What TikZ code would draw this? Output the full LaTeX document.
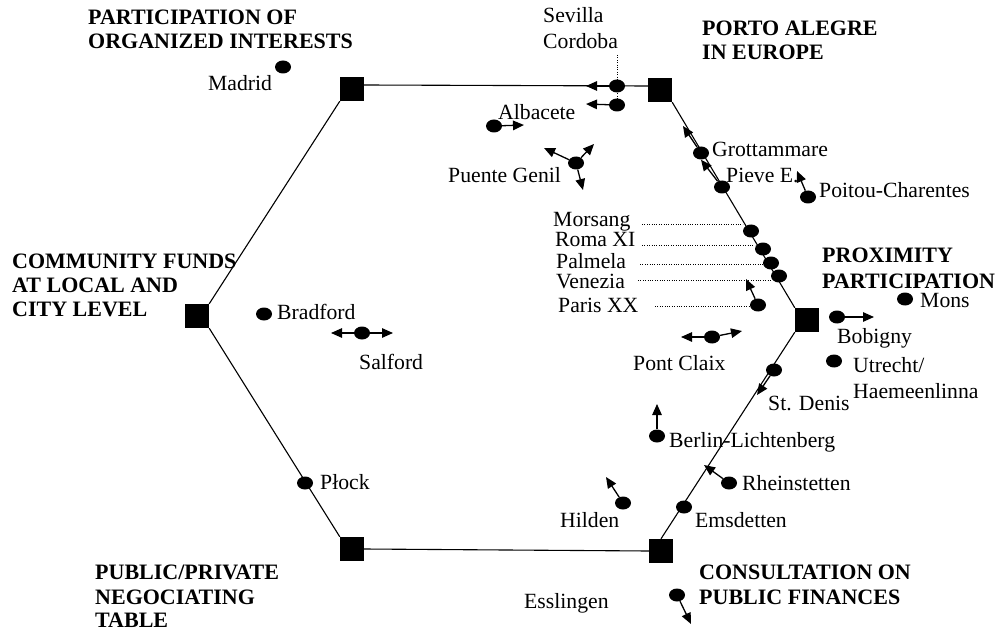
\documentclass[tikz,border=0pt]{standalone}
\usepackage{fontspec}
\setmainfont{Liberation Serif}
\usetikzlibrary{arrows.meta,shapes.geometric}
\tikzset{
  vert/.style={rectangle, fill=black, minimum size=24pt, inner sep=0pt},
  dot/.style={ellipse, fill=black, minimum width=16pt, minimum height=13pt, inner sep=0pt},
  lbl/.style={anchor=base west, inner sep=0pt},
  head/.style={lbl, font=\fontsize{22}{24}\selectfont\bfseries},
  arr/.style={line width=1.3pt, -{Triangle[length=11pt,width=9.5pt]}},
  hexedge/.style={line width=1.1pt},
  guide/.style={line width=0.8pt, dash pattern=on 0.8pt off 1.6pt},
}
\begin{document}
\begin{tikzpicture}[x=1pt,y=-1pt,font=\fontsize{21.7}{24}\selectfont]
\useasboundingbox (0,0) rectangle (1008,628);
% hexagon vertices
\node[vert] (tl) at (352,89) {};
\node[vert] (tr) at (660,90) {};
\node[vert] (r)  at (807,320) {};
\node[vert] (br) at (661,551) {};
\node[vert] (bl) at (352,549) {};
\node[vert] (l)  at (197,316) {};
\draw[hexedge] ([yshift=4pt]tr.west) -- ([yshift=4pt]tl.east);
\draw[hexedge] (tl.south west) -- (l.north east);
\draw[hexedge] (l.south east) -- (bl.north west);
\draw[hexedge] (bl.east) -- (br.west);
\draw[hexedge] (br.north) -- (r.south west);
\draw[hexedge] (r.north west) -- (tr.south east);
% headings
\node[head] (h1a) at (88,25) {PARTICIPATION OF};
\node[head] (h1b) at (88,49) {ORGANIZED INTERESTS};
\node[head] (h2a) at (702,36) {PORTO ALEGRE};
\node[head] (h2b) at (702,60) {IN EUROPE};
\node[head] (h3a) at (12,268) {COMMUNITY FUNDS};
\node[head] (h3b) at (12,292) {AT LOCAL AND};
\node[head] (h3c) at (12,316) {CITY LEVEL};
\node[head] (h4a) at (822,262) {PROXIMITY};
\node[head] (h4b) at (822,288) {PARTICIPATION};
\node[head] (h5a) at (95,579) {PUBLIC/PRIVATE};
\node[head] (h5b) at (95,604) {NEGOCIATING};
\node[head] (h5c) at (95,627) {TABLE};
\node[head] (h6a) at (699,579) {CONSULTATION ON};
\node[head] (h6b) at (699,604) {PUBLIC FINANCES};
% Madrid
\node[dot] (madrid) at (283,67) {};
\node[lbl] (madridL) at (208,91) {Madrid};
% Sevilla / Cordoba
\node[lbl] (sevL) at (543,23) {Sevilla};
\node[lbl] (corL) at (543,49) {Cordoba};
\node[dot] (sev) at (617,86) {};
\node[dot] (cor) at (617,105) {};
\coordinate (sevtop) at (617,55);
\draw[guide] (sevtop) -- (cor.north);
\coordinate (sevA) at (586,86);
\coordinate (corA) at (586,104);
\draw[arr] (sev) -- (sevA);
\draw[arr] (cor) -- (corA);
% Albacete
\node[dot] (alb) at (494,126) {};
\node[lbl] (albL) at (498,120) {Albacete};
\coordinate (albA) at (524,125);
\draw[arr] (alb) -- (albA);
% Puente Genil
\node[dot] (pg) at (576,163) {};
\node[lbl] (pgL) at (448,183) {Puente Genil};
\coordinate (pgA) at (544,148);
\coordinate (pgB) at (594,144);
\coordinate (pgC) at (583,190);
\draw[arr] (pg) -- (pgA);
\draw[arr] (pg) -- (pgB);
\draw[arr] (pg) -- (pgC);
% Grottammare, Pieve E.
\node[dot] (grot) at (701,153) {};
\node[lbl] (grotL) at (712,157) {Grottammare};
\coordinate (grotA) at (683,126);
\draw[arr] (grot) -- (grotA);
\node[dot] (pieve) at (722,187) {};
\node[lbl] (pieveL) at (726,183) {Pieve E.};
\draw[arr] (pieve) -- (grot.south);
% Poitou-Charentes
\node[dot] (poit) at (808,197) {};
\node[lbl] (poitL) at (819,198) {Poitou-Charentes};
\coordinate (poitA) at (797,171);
\draw[arr] (poit) -- (poitA);
% Morsang ... Paris XX
\node[dot] (mors) at (751,231) {};
\node[dot] (roma) at (763,249) {};
\node[dot] (palm) at (771,263) {};
\node[dot] (vene) at (779,276) {};
\node[dot] (paris) at (758,305) {};
\node[lbl] (morsL) at (553,227) {Morsang};
\node[lbl] (romaL) at (555,247) {Roma XI};
\node[lbl] (palmL) at (556,268) {Palmela};
\node[lbl] (veneL) at (556,288) {Venezia};
\node[lbl] (parisL) at (558,312) {Paris XX};
\coordinate (morsG) at (642,224);
\coordinate (romaG) at (642,245);
\coordinate (palmG) at (640,264);
\coordinate (veneG) at (638,280);
\coordinate (parisG) at (655,306);
\draw[guide] (morsG) -- (mors.west |- morsG);
\draw[guide] (romaG) -- (roma.west |- romaG);
\draw[guide] (palmG) -- (palm.west |- palmG);
\draw[guide] (veneG) -- (vene.west |- veneG);
\draw[guide] (parisG) -- (paris.west |- parisG);
\coordinate (parisA) at (746,279);
\draw[arr] (paris) -- (parisA);
% Pont Claix
\node[dot] (pc) at (712,337) {};
\node[lbl] (pcL) at (633,370) {Pont Claix};
\coordinate (pcA) at (681,337);
\coordinate (pcB) at (742,331);
\draw[arr] (pc) -- (pcA);
\draw[arr] (pc) -- (pcB);
% Mons
\node[dot] (mons) at (905,299) {};
\node[lbl] (monsL) at (920,307) {Mons};
% Bobigny
\node[dot] (bob) at (837,317) {};
\node[lbl] (bobL) at (837,343) {Bobigny};
\coordinate (bobA) at (874,317);
\draw[arr] (bob) -- (bobA);
% Utrecht
\node[dot] (utr) at (834,361) {};
\node[lbl] (utrL) at (853,372) {Utrecht/};
\node[lbl] (haeL) at (853,398) {Haemeenlinna};
% St. Denis
\node[dot] (std) at (774,370) {};
\node[lbl] (stdL) at (768,410) {St. Denis};
\coordinate (stdA) at (757,395);
\draw[arr] (std) -- (stdA);
% Berlin-Lichtenberg
\node[dot] (berl) at (657,436) {};
\node[lbl] (berlL) at (669,447) {Berlin-Lichtenberg};
\coordinate (berlA) at (657,404);
\draw[arr] (berl) -- (berlA);
% Rheinstetten
\node[dot] (rhein) at (729,483) {};
\node[lbl] (rheinL) at (742,490) {Rheinstetten};
\coordinate (rheinA) at (704,465);
\draw[arr] (rhein) -- (rheinA);
% Emsdetten
\node[dot] (ems) at (684,507) {};
\node[lbl] (emsL) at (695,527) {Emsdetten};
% Hilden
\node[dot] (hild) at (623,503) {};
\node[lbl] (hildL) at (560,527) {Hilden};
\coordinate (hildA) at (606,477);
\draw[arr] (hild) -- (hildA);
% Esslingen
\node[dot] (ess) at (677,595) {};
\node[lbl] (essL) at (524,608) {Esslingen};
\coordinate (essA) at (691,624);
\draw[arr] (ess) -- (essA);
% Plock
\node[dot] (plock) at (305,483) {};
\node[lbl] (plockL) at (320,489) {Płock};
% Bradford
\node[dot] (brad) at (264,314) {};
\node[lbl] (bradL) at (277,319) {Bradford};
% Salford
\node[dot] (salf) at (362,333) {};
\node[lbl] (salfL) at (359,369) {Salford};
\coordinate (salfA) at (331,333);
\coordinate (salfB) at (393,333);
\draw[arr] (salf) -- (salfA);
\draw[arr] (salf) -- (salfB);
\end{tikzpicture}
\end{document}
